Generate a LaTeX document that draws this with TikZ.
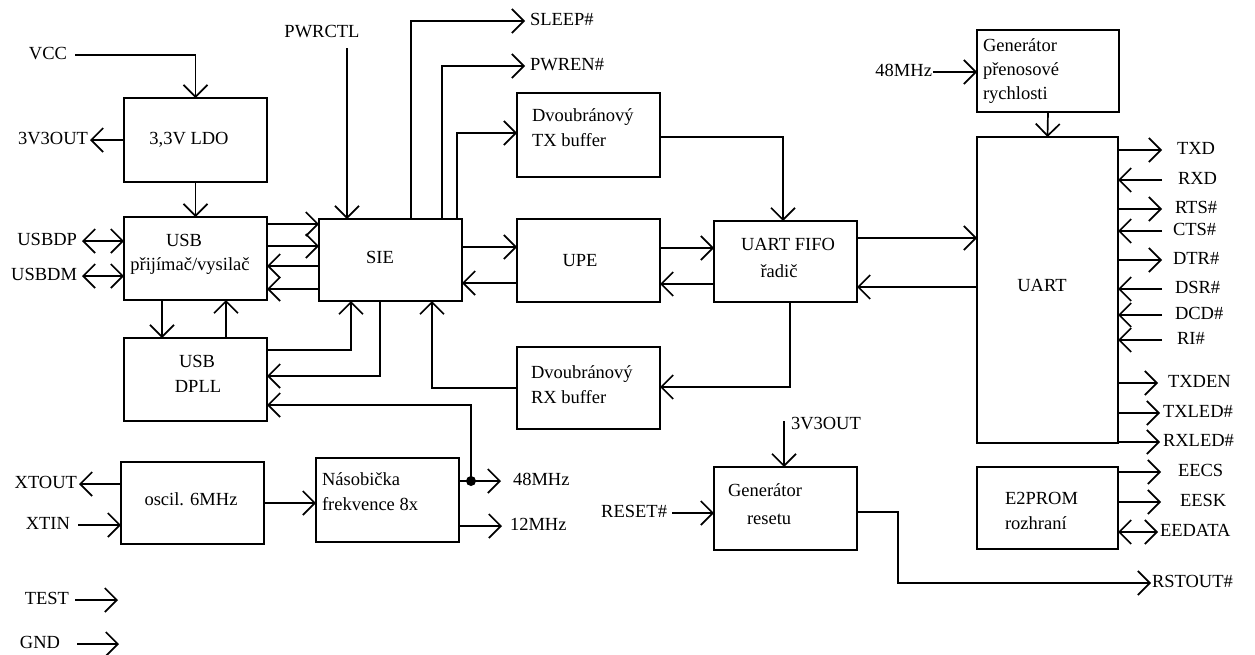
\documentclass[tikz,border=0pt]{standalone}
\usepackage{fontspec}
\setmainfont{Liberation Serif}
\usetikzlibrary{arrows.meta,calc}
\begin{document}
\begin{tikzpicture}[x=1pt,y=-1pt,
  every node/.style={font=\fontsize{18.5}{21}\selectfont, inner sep=0pt, outer sep=0pt},
  box/.style={draw, line width=1.7pt, rectangle, minimum width=143pt},
  wire/.style={line width=1.7pt},
  ar/.style={wire, -{Straight Barb[length=12pt,width=24pt]}},
  dar/.style={wire, {Straight Barb[length=12pt,width=24pt]}-{Straight Barb[length=12pt,width=24pt]}},
  txt/.style={text height=12.5pt, text depth=4pt},
  lw/.style={txt, anchor=west},
  le/.style={txt, anchor=east},
]
\fill[white] (0,0) rectangle (1255,654);
\useasboundingbox (0,0) rectangle (1255,654);

% ---------- boxes ----------
\node[box, minimum height=84pt] (ldo)  at (195.5,140) {};
\node[box, minimum height=83pt] (usb)  at (195.5,258.5) {};
\node[box, minimum height=83pt] (dpll) at (195.5,379.5) {};
\node[box, minimum height=82pt] (osc)  at (192.5,503) {};
\node[box, minimum height=84pt] (nas)  at (387.5,500) {};
\node[box, minimum height=82pt] (sie)  at (390.5,260) {};
\node[box, minimum height=84pt] (tx)   at (588.5,135) {};
\node[box, minimum height=83pt] (upe)  at (588.5,260.5) {};
\node[box, minimum height=82pt] (rx)   at (588.5,388) {};
\node[box, minimum height=81pt] (fifo) at (785.5,261.5) {};
\node[box, minimum height=83pt] (gres) at (785.5,508.5) {};
\node[box, minimum height=82pt, minimum width=142pt] (baud) at (1048,71) {};
\node[box, minimum height=306pt, minimum width=141pt] (uart) at (1047.5,290) {};
\node[box, minimum height=82pt, minimum width=141pt] (eep) at (1047.5,508) {};

% ---------- box texts ----------
\node[txt] (tldo) at (189,140) {3,3V LDO};
\node[txt] (tusb1) at (184,242) {USB};
\node[txt] (tusb2) at (190,266) {přijímač/vysilač};
\node[txt] (tdpll1) at (197,363) {USB};
\node[txt] (tdpll2) at (198,388) {DPLL};
\node[txt] (tosc) at (191,501) {oscil. 6MHz};
\node[lw] (tnas1) at (322,481) {Násobička};
\node[lw] (tnas2) at (322,506) {frekvence 8x};
\node[txt] (tsie) at (380,259) {SIE};
\node[lw] (ttx1) at (532,117) {Dvoubránový};
\node[lw] (ttx2) at (532,142) {TX buffer};
\node[txt] (tupe) at (580,262) {UPE};
\node[lw] (trx1) at (531,374) {Dvoubránový};
\node[lw] (trx2) at (531,399) {RX buffer};
\node[txt] (tfifo1) at (788,246) {UART FIFO};
\node[txt] (tfifo2) at (779,273) {řadič};
\node[lw] (tgres1) at (728,492) {Generátor};
\node[lw] (tgres2) at (747,520) {resetu};
\node[lw] (tbaud1) at (983,47) {Generátor};
\node[lw] (tbaud2) at (983,71) {přenosové};
\node[lw] (tbaud3) at (983,95) {rychlosti};
\node[txt] (tuart) at (1042,287) {UART};
\node[lw] (teep1) at (1005,500) {E2PROM};
\node[lw] (teep2) at (1005,525) {rozhraní};

% ---------- left labels ----------
\node[le] (vcc) at (67,55) {VCC};
\node[le] (v3) at (88,140) {3V3OUT};
\node[le] (dp) at (77,241) {USBDP};
\node[le] (dm) at (77,276) {USBDM};
\node[le] (xtout) at (77,484) {XTOUT};
\node[le] (xtin) at (70,525) {XTIN};
\node[le] (test) at (69,600) {TEST};
\node[le] (gnd) at (60,644) {GND};
\coordinate (testend) at (118,600);
\coordinate (gndend) at (119,644);

\draw[ar] ([xshift=8pt]vcc.east) -| (ldo.north);
\draw[ar] (ldo.west) -- ([xshift=2pt]v3.east);
\draw[ar] (ldo.south) -- (usb.north);
\draw[dar] (usb.west |- dp) -- ([xshift=5pt]dp.east);
\draw[dar] (usb.west |- dm) -- ([xshift=5pt]dm.east);
\draw[ar] (osc.west |- xtout) -- ([xshift=2pt]xtout.east);
\draw[ar] ([xshift=8pt]xtin.east) -- (osc.west |- xtin);
\draw[ar] ([xshift=6pt]test.east) -- (testend);
\draw[ar] ([xshift=17pt]gnd.east) -- (gndend);

% ---------- USB / DPLL / SIE ----------
\draw[ar] (usb.east |- 0,224) -- (sie.west |- 0,224);
\draw[ar] (usb.east |- 0,246) -- (sie.west |- 0,246);
\draw[ar] (sie.west |- 0,266) -- (usb.east |- 0,266);
\draw[ar] (sie.west |- 0,289) -- (usb.east |- 0,289);
\draw[ar] (usb.south -| 162,0) -- (dpll.north -| 162,0);
\draw[ar] (dpll.north -| 226,0) -- (usb.south -| 226,0);
\draw[ar] (dpll.east |- 0,350) -| (sie.south -| 351,0);
\draw[ar] (sie.south -| 380,0) |- (dpll.east |- 0,376);

% ---------- top of SIE ----------
\node[txt] (pwrctl) at (322,33) {PWRCTL};
\coordinate (pwrin) at (347,48);
\draw[ar] (pwrin) -- (pwrin |- sie.north);
\node[lw] (sleep) at (530,21) {SLEEP\#};
\node[lw] (pwren) at (530,66) {PWREN\#};
\draw[ar] ([xshift=92pt]sie.north west) |- ([xshift=-5pt]sleep.west);
\draw[ar] ([xshift=123pt]sie.north west) |- ([xshift=-5pt]pwren.west);
\draw[ar] ([xshift=138pt]sie.north west) |- (tx.west |- 0,133);

% ---------- SIE / UPE / FIFO / buffers ----------
\draw[ar] (sie.east |- 0,247) -- (upe.west |- 0,247);
\draw[ar] (upe.west |- 0,283) -- (sie.east |- 0,283);
\draw[ar] (upe.east |- 0,248) -- (fifo.west |- 0,248);
\draw[ar] (fifo.west |- 0,284) -- (upe.east |- 0,284);
\draw[ar] (tx.east |- 0,137) -| (fifo.north -| 783,0);
\draw[ar] (fifo.south -| 790,0) |- (rx.east |- 0,387);
\draw[ar] (rx.west |- 0,388) -| (sie.south -| 432,0);
\draw[ar] (fifo.east |- 0,238) -- (uart.west |- 0,238);
\draw[ar] (uart.west |- 0,287) -- (fifo.east |- 0,287);

% ---------- oscillator / multiplier ----------
\draw[ar] (osc.east) -- (nas.west |- osc.east);
\coordinate (j) at (471,481);
\node[lw] (m48) at (513,481) {48MHz};
\node[lw] (m12) at (510,526) {12MHz};
\draw[wire] (nas.east |- j) -- (j);
\draw[ar] (j) -- ([xshift=-12pt]m48.west);
\draw[ar] (j) |- (dpll.east |- 0,405);
\fill (j) circle (5pt);
\draw[ar] (nas.east |- m12) -- ([xshift=-8pt]m12.west);

% ---------- baud generator / UART ----------
\node[le] (m48t) at (932,72) {48MHz};
\draw[ar] ([xshift=1pt]m48t.east) -- (baud.west |- m48t);
\draw[ar] (baud.south) -- (uart.north);

\node[lw] (txd) at (1177,150) {TXD};
\node[lw] (rxd) at (1178,180) {RXD};
\node[lw] (rts) at (1175,209) {RTS\#};
\node[lw] (cts) at (1173,231) {CTS\#};
\node[lw] (dtr) at (1173,260) {DTR\#};
\node[lw] (dsr) at (1175,289) {DSR\#};
\node[lw] (dcd) at (1175,315) {DCD\#};
\node[lw] (ri)  at (1177,340) {RI\#};
\node[lw] (txden) at (1168,383) {TXDEN};
\node[lw] (txled) at (1163,413) {TXLED\#};
\node[lw] (rxled) at (1163,442) {RXLED\#};
\draw[ar] (uart.east |- txd) -- ([xshift=-15pt]txd.west);
\draw[ar] ([xshift=-16pt]rxd.west) -- (uart.east |- rxd);
\draw[ar] (uart.east |- rts) -- ([xshift=-13pt]rts.west);
\draw[ar] ([xshift=-11pt]cts.west) -- (uart.east |- cts);
\draw[ar] (uart.east |- dtr) -- ([xshift=-11pt]dtr.west);
\draw[ar] ([xshift=-13pt]dsr.west) -- (uart.east |- dsr);
\draw[ar] ([xshift=-13pt]dcd.west) -- (uart.east |- dcd);
\draw[ar] ([xshift=-15pt]ri.west) -- (uart.east |- ri);
\draw[ar] (uart.east |- txden) -- ([xshift=-10pt]txden.west);
\draw[ar] (uart.east |- txled) -- ([xshift=-3pt]txled.west);
\draw[ar] (uart.east |- rxled) -- ([xshift=-3pt]rxled.west);

% ---------- E2PROM ----------
\node[lw] (eecs) at (1178,472) {EECS};
\node[lw] (eesk) at (1180,502) {EESK};
\node[lw] (eedata) at (1160,532) {EEDATA};
\draw[ar] (eep.east |- eecs) -- ([xshift=-17pt]eecs.west);
\draw[ar] (eep.east |- eesk) -- ([xshift=-19pt]eesk.west);
\draw[dar] (eep.east |- eedata) -- ([xshift=-2pt]eedata.west);

% ---------- reset generator ----------
\node[lw] (v3b) at (791,425) {3V3OUT};
\coordinate (v3bin) at (784,421);
\draw[ar] (v3bin) -- (v3bin |- gres.north);
\node[le] (reset) at (667,513) {RESET\#};
\draw[ar] ([xshift=5pt]reset.east) -- (gres.west |- reset);
\node[lw] (rst) at (1152,583) {RSTOUT\#};
\coordinate (rbend) at (898,512);
\draw[ar] (gres.east |- rbend) -- (rbend) |- ([xshift=-1pt]rst.west);
\end{tikzpicture}
\end{document}
